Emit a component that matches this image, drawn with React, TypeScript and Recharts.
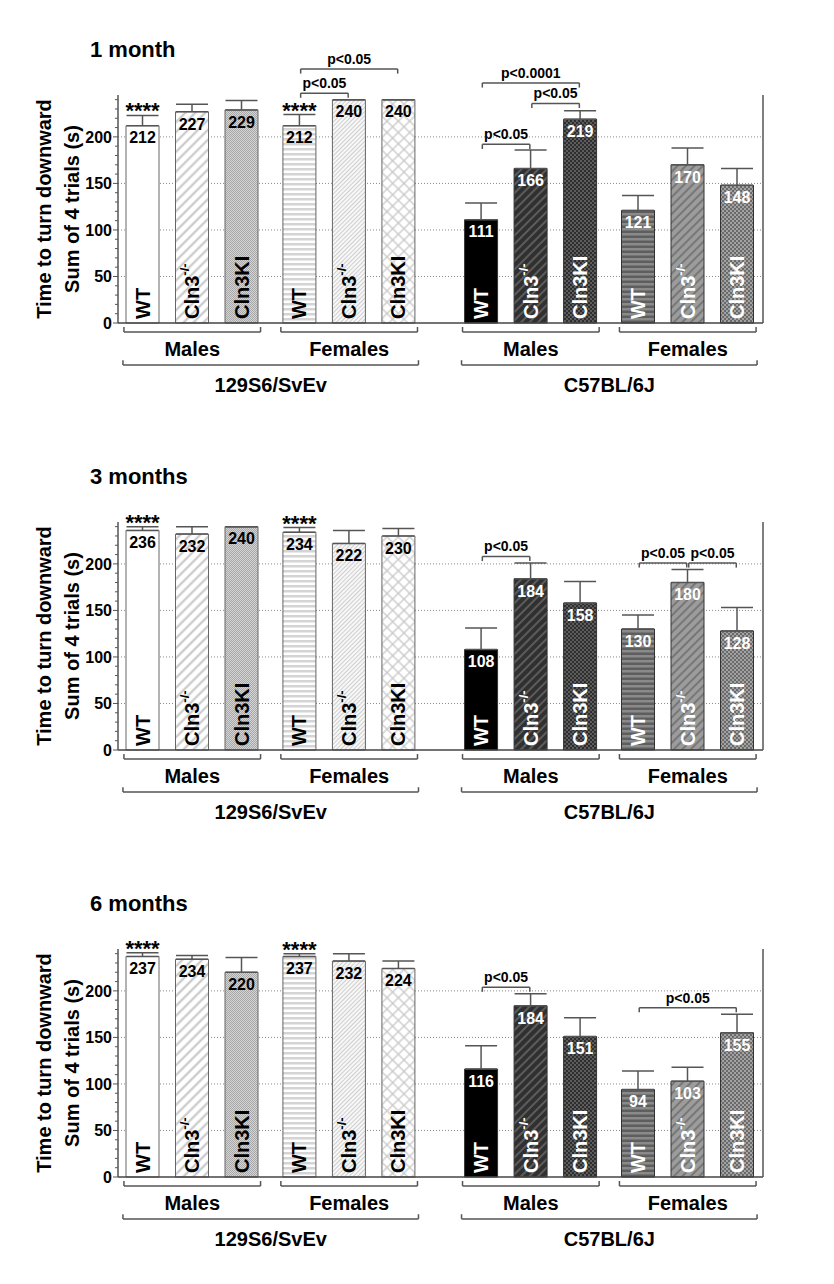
import React from 'react';
import {
  ComposedChart, Bar, XAxis, YAxis, CartesianGrid, ErrorBar, Cell, LabelList, ReferenceLine,
} from 'recharts';

// bar order in every panel: 129S6 M (WT, Cln3-/-, Cln3KI), 129S6 F, C57 M, C57 F
const genotypes = ['WT', 'Cln3-/-', 'Cln3KI'];
const sexes = ['Males', 'Females'];
const strains = ['129S6/SvEv', 'C57BL/6J'];

const means1m = [212, 227, 229, 212, 240, 240, 111, 166, 219, 121, 170, 148];
const sem1m = [11, 8, 10, 12, 0, 0, 18, 20, 9, 16, 18, 18];
const means3m = [236, 232, 240, 234, 222, 230, 108, 184, 158, 130, 180, 128];
const sem3m = [4, 8, 0, 5, 14, 8, 23, 17, 23, 15, 14, 25];
const means6m = [237, 234, 220, 237, 232, 224, 116, 184, 151, 94, 103, 155];
const sem6m = [4, 4, 16, 3, 8, 8, 25, 13, 20, 20, 15, 20];
const stars = ['****', '', '', '****', '', '', '', '', '', '', '', ''];

const sig1m = [
  { from: 3, to: 4, y: 247, text: 'p<0.05' },
  { from: 3, to: 5, y: 273, text: 'p<0.05' },
  { from: 6, to: 8, y: 258, text: 'p<0.0001' },
  { from: 7, to: 8, y: 236, text: 'p<0.05' },
  { from: 6, to: 7, y: 192, text: 'p<0.05' },
];
const sig3m = [
  { from: 6, to: 7, y: 208, text: 'p<0.05' },
  { from: 9, to: 10, y: 201, text: 'p<0.05' },
  { from: 10, to: 11, y: 201, text: 'p<0.05' },
];
const sig6m = [
  { from: 6, to: 7, y: 204, text: 'p<0.05' },
  { from: 9, to: 11, y: 182, text: 'p<0.05' },
];

const yTicks = [0, 10, 20, 30, 40, 50, 60, 70, 80, 90, 100, 110, 120, 130, 140, 150, 160, 170, 180, 190, 200, 210, 220, 230, 240];

const fills = [
  '#ffffff', 'url(#hatchLight)', 'url(#dotsLight)', 'url(#hstripeLight)', 'url(#fineLight)', 'url(#crossLight)',
  '#000000', 'url(#hatchDark)', 'url(#checkDark)', 'url(#hstripeMid)', 'url(#hatchMid)', 'url(#checkMid)',
];

const FONT = '"Liberation Sans", Arial, sans-serif';
const AX = '#555';

// x position of bar i: unit spacing, small gap between sexes, wide gap between strains
function barPos(i: number) {
  const s = Math.floor(i / 6);
  const x = Math.floor((i % 6) / 3);
  return 0.5 + i + 0.17 * (x + s) + 0.67 * s;
}

const LeftTick = (p: any) => {
  const { x, y, payload } = p;
  const v = payload.value;
  const major = v % 50 === 0;
  return (
    <g>
      <line x1={x - (major ? 5 : 3)} x2={x} y1={y} y2={y} stroke={AX} />
      {major ? (
        <text x={x - 6} y={y} dy="0.36em" textAnchor="end" fontSize={16} fontWeight="bold" fill="#000">{v}</text>
      ) : null}
    </g>
  );
};

const RightTick = (p: any) => {
  const { x, y, payload } = p;
  const v = payload.value;
  const major = v % 50 === 0;
  return (
    <g>
      <line x1={x} x2={x + (major ? 5 : 3)} y1={y} y2={y} stroke={AX} />
      {major ? (
        <text x={x + 6} y={y} dy="0.36em" textAnchor="start" fontSize={16} fontWeight="bold" fill="#000">{v}</text>
      ) : null}
    </g>
  );
};

const renderYLabel = (p: any) => {
  const vb = p.viewBox;
  const cy = vb.y + vb.height / 2;
  const x1 = vb.x + 36;
  const x2 = vb.x + 64;
  return (
    <g>
      <text x={x1} y={cy} transform={`rotate(-90 ${x1} ${cy})`} textAnchor="middle" dominantBaseline="central"
        fontSize={20} fontWeight="bold" fill="#000">Time to turn downward</text>
      <text x={x2} y={cy} transform={`rotate(-90 ${x2} ${cy})`} textAnchor="middle" dominantBaseline="central"
        fontSize={20} fontWeight="bold" fill="#000">Sum of 4 trials (s)</text>
    </g>
  );
};

function Panel({ title, means, sems, sigs }: { title: string; means: number[]; sems: number[]; sigs: any[] }) {
  const rows = means.map((m, i) => ({
    pos: barPos(i),
    mean: m,
    sem: sems[i],
    err: [0, sems[i]],
    star: stars[i],
    geno: genotypes[i % 3],
    dark: i >= 6,
  }));

  const valueLabel = (p: any) => {
    const vb = p.viewBox || p;
    const r = rows[p.index];
    if (!r) return null;
    return (
      <text x={vb.x + vb.width / 2} y={vb.y + 12} dy="0.36em" textAnchor="middle" fontSize={16} fontWeight="bold"
        fill={r.dark ? '#fff' : '#000'}>{r.mean}</text>
    );
  };

  const genoLabel = (p: any) => {
    const vb = p.viewBox || p;
    const r = rows[p.index];
    if (!r) return null;
    const cx = vb.x + vb.width / 2;
    const by = vb.y + vb.height - 4;
    const isKO = r.geno === 'Cln3-/-';
    return (
      <text x={cx} y={by} transform={`rotate(-90 ${cx} ${by})`} textAnchor="start" dominantBaseline="central"
        fontSize={20} fontWeight="bold" fill={r.dark ? '#fff' : '#000'}>
        {isKO ? 'Cln3' : r.geno}
        {isKO ? <tspan dy={-8} fontSize={13}>-/-</tspan> : null}
      </text>
    );
  };

  const starLabel = (p: any) => {
    const vb = p.viewBox || p;
    const r = rows[p.index];
    if (!r || !r.star) return null;
    const top = vb.y - (r.sem * vb.height) / r.mean;
    return (
      <text x={vb.x + vb.width / 2} y={top + 3} textAnchor="middle" fontSize={22} fontWeight="bold" fill="#000">{r.star}</text>
    );
  };

  const lineProps = { yAxisId: 'left', stroke: AX, strokeWidth: 1.5, ifOverflow: 'visible' as const };

  const bracket = (key: string, x1: number, x2: number, y: number, drop: number, label: any) => [
    <ReferenceLine key={key + 'h'} {...lineProps} segment={[{ x: x1, y }, { x: x2, y }]} label={label} />,
    <ReferenceLine key={key + 'a'} {...lineProps} segment={[{ x: x1, y }, { x: x1, y: y + drop }]} />,
    <ReferenceLine key={key + 'b'} {...lineProps} segment={[{ x: x2, y }, { x: x2, y: y + drop }]} />,
  ];

  const sigLines = sigs.flatMap((s, k) =>
    bracket('sig' + k, rows[s.from].pos + 0.02, rows[s.to].pos - 0.02, s.y, -5,
      { value: s.text, position: 'top', offset: 5, fontSize: 14, fontWeight: 'bold', fill: '#000' }));

  const sexLines = [0, 1, 2, 3].flatMap((g) => {
    const a = rows[g * 3].pos - 0.38;
    const b = rows[g * 3 + 2].pos + 0.38;
    return bracket('sex' + g, a, b, -9.7, 5.4,
      { value: sexes[g % 2], position: 'bottom', offset: 10, fontSize: 20, fontWeight: 'bold', fill: '#000' });
  });

  const strainLines = [0, 1].flatMap((s) => {
    const a = rows[s * 6].pos - 0.4;
    const b = rows[s * 6 + 5].pos + 0.4;
    return bracket('strain' + s, a, b, -45, 5,
      { value: strains[s], position: 'bottom', offset: 13, fontSize: 20, fontWeight: 'bold', fill: '#000' });
  });

  return (
    <div style={{ position: 'relative', width: 818, height: 427 }}>
      <div style={{ position: 'absolute', left: 82, top: 31, fontSize: 22, lineHeight: '22px', fontWeight: 'bold', color: '#000' }}>
        {title}
      </div>
      <ComposedChart width={818} height={427} data={rows} margin={{ top: 87, right: 0, bottom: 111, left: 0 }}>
        <CartesianGrid yAxisId="left" vertical={false} horizontalValues={[50, 100, 150, 200]}
          stroke="#8a8a8a" strokeDasharray="1 2" />
        <XAxis type="number" dataKey="pos" domain={[0, 13.03]} ticks={[0, 1, 2, 3, 4, 5, 6, 7, 8, 9, 10, 11, 12, 13]}
          tick={false} tickLine={false} height={1} axisLine={{ stroke: '#444', strokeWidth: 1.5 }} />
        <YAxis yAxisId="left" width={110} domain={[0, 245]} ticks={yTicks} interval={0} tickSize={0} tickMargin={0}
          tickLine={false} tick={LeftTick} axisLine={{ stroke: AX, strokeWidth: 1.5 }} label={renderYLabel} />
        <YAxis yAxisId="right" orientation="right" width={63} domain={[0, 245]} ticks={yTicks} interval={0}
          tickSize={0} tickMargin={0} tickLine={false} tick={RightTick} axisLine={{ stroke: AX, strokeWidth: 1.5 }} />
        <Bar yAxisId="left" dataKey="mean" barSize={33} isAnimationActive={false}>
          {rows.map((r, i) => (
            <Cell key={i} fill={fills[i]} stroke={r.dark ? '#333' : '#666'} strokeWidth={1} />
          ))}
          <ErrorBar dataKey="err" direction="y" width={16} stroke={AX} strokeWidth={1.5} />
          <LabelList dataKey="mean" content={valueLabel} />
          <LabelList dataKey="geno" content={genoLabel} />
          <LabelList dataKey="star" content={starLabel} />
        </Bar>
        {sigLines}
        {sexLines}
        {strainLines}
      </ComposedChart>
    </div>
  );
}

function Patterns() {
  return (
    <svg width={0} height={0} style={{ position: 'absolute' }}>
      <defs>
        <pattern id="hatchLight" width="7" height="7" patternUnits="userSpaceOnUse" patternTransform="rotate(45)">
          <rect width="7" height="7" fill="#fff" />
          <line x1="3.5" y1="0" x2="3.5" y2="7" stroke="#c4c4c4" strokeWidth="2" />
        </pattern>
        <pattern id="dotsLight" width="2" height="2" patternUnits="userSpaceOnUse">
          <rect width="2" height="2" fill="#d4d4d4" />
          <rect x="0" y="0" width="1" height="1" fill="#a8a8a8" />
          <rect x="1" y="1" width="1" height="1" fill="#a8a8a8" />
        </pattern>
        <pattern id="hstripeLight" width="4" height="5" patternUnits="userSpaceOnUse">
          <rect width="4" height="5" fill="#fff" />
          <rect y="0" width="4" height="2.5" fill="#d4d4d4" />
        </pattern>
        <pattern id="fineLight" width="3" height="3" patternUnits="userSpaceOnUse" patternTransform="rotate(45)">
          <rect width="3" height="3" fill="#f7f7f7" />
          <line x1="1.5" y1="0" x2="1.5" y2="3" stroke="#cfcfcf" strokeWidth="1" />
        </pattern>
        <pattern id="crossLight" width="8" height="8" patternUnits="userSpaceOnUse" patternTransform="rotate(45)">
          <rect width="8" height="8" fill="#fff" />
          <line x1="4" y1="0" x2="4" y2="8" stroke="#c8c8c8" strokeWidth="1.3" />
          <line x1="0" y1="4" x2="8" y2="4" stroke="#c8c8c8" strokeWidth="1.3" />
        </pattern>
        <pattern id="hatchDark" width="6" height="6" patternUnits="userSpaceOnUse" patternTransform="rotate(45)">
          <rect width="6" height="6" fill="#303030" />
          <line x1="3" y1="0" x2="3" y2="6" stroke="#6a6a6a" strokeWidth="1.5" />
        </pattern>
        <pattern id="checkDark" width="4" height="4" patternUnits="userSpaceOnUse">
          <rect width="4" height="4" fill="#2e2e2e" />
          <rect x="0" y="0" width="2" height="2" fill="#5c5c5c" />
          <rect x="2" y="2" width="2" height="2" fill="#5c5c5c" />
        </pattern>
        <pattern id="hstripeMid" width="4" height="5" patternUnits="userSpaceOnUse">
          <rect width="4" height="5" fill="#5e5e5e" />
          <rect y="0" width="4" height="2.5" fill="#8a8a8a" />
        </pattern>
        <pattern id="hatchMid" width="6" height="6" patternUnits="userSpaceOnUse" patternTransform="rotate(45)">
          <rect width="6" height="6" fill="#9c9c9c" />
          <line x1="3" y1="0" x2="3" y2="6" stroke="#6a6a6a" strokeWidth="1.5" />
        </pattern>
        <pattern id="checkMid" width="4" height="4" patternUnits="userSpaceOnUse">
          <rect width="4" height="4" fill="#6a6a6a" />
          <rect x="0" y="0" width="2" height="2" fill="#a2a2a2" />
          <rect x="2" y="2" width="2" height="2" fill="#a2a2a2" />
        </pattern>
      </defs>
    </svg>
  );
}

export default function App() {
  return (
    <div style={{ position: 'relative', width: 818, height: 1268, overflow: 'hidden', fontFamily: FONT, background: '#fff' }}>
      <Patterns />
      <Panel title="1 month" means={means1m} sems={sem1m} sigs={sig1m} />
      <Panel title="3 months" means={means3m} sems={sem3m} sigs={sig3m} />
      <Panel title="6 months" means={means6m} sems={sem6m} sigs={sig6m} />
    </div>
  );
}
